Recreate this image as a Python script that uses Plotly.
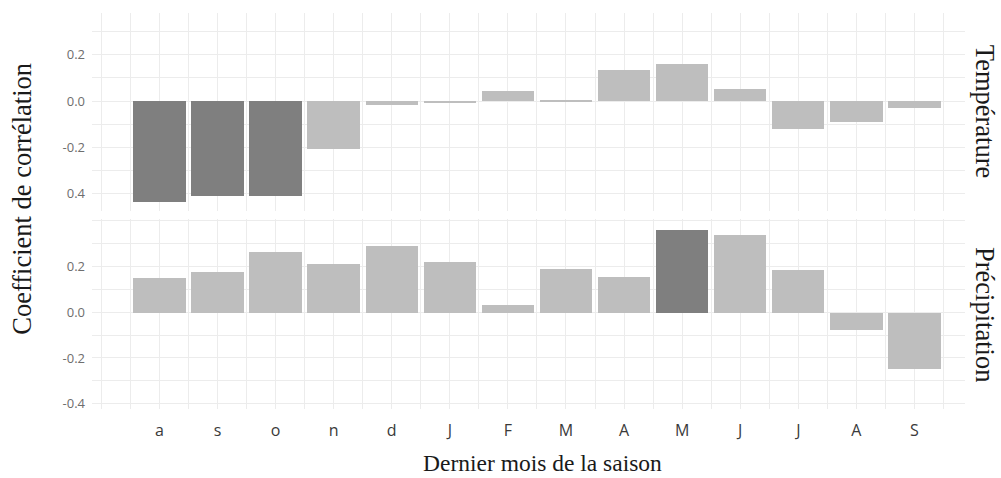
import plotly.graph_objects as go

# Season end months (Aug -> Sep of following year)
months = ["a", "s", "o", "n", "d", "J", "F", "M", "A", "M", "J", "J", "A", "S"]

# Correlation coefficients per climate variable
temperature = [-0.437, -0.411, -0.411, -0.208, -0.017, -0.009, 0.043, 0.004,
               0.136, 0.162, 0.053, -0.122, -0.089, -0.030]
precipitation = [0.153, 0.177, 0.265, 0.214, 0.294, 0.224, 0.035, 0.190,
                 0.158, 0.362, 0.340, 0.187, -0.074, -0.247]

# Significant correlations are drawn darker
significant_temp = [True, True, True, False, False, False, False, False,
                    False, False, False, False, False, False]
significant_precip = [False, False, False, False, False, False, False, False,
                      False, True, False, False, False, False]

# Y tick labels for each panel
temp_ticks = [-0.4, -0.2, 0.0, 0.2]
temp_ticktext = ["0.4", "-0.2", "0.0", "0.2"]
precip_ticks = [-0.4, -0.2, 0.0, 0.2]
precip_ticktext = ["-0.4", "-0.2", "0.0", "0.2"]

LIGHT = "#bebebe"
DARK = "#7f7f7f"
GRID = "#ececec"
SERIF = "Liberation Serif, Times New Roman, serif"
SANS = "Open Sans, Noto Sans, sans-serif"

x_pos = list(range(len(months)))

fig = go.Figure()
fig.add_trace(go.Bar(
    x=x_pos, y=temperature, width=0.9,
    marker=dict(color=[DARK if s else LIGHT for s in significant_temp], line=dict(width=0)),
    xaxis="x", yaxis="y", showlegend=False,
))
fig.add_trace(go.Bar(
    x=x_pos, y=precipitation, width=0.9,
    marker=dict(color=[DARK if s else LIGHT for s in significant_precip], line=dict(width=0)),
    xaxis="x2", yaxis="y2", showlegend=False,
))

W, H = 1001, 478
x_left, x_right = 92 / W, 965 / W
top_dom = [1 - 212 / H, 1 - 13 / H]
bot_dom = [1 - 412 / H, 1 - 220 / H]
x_range = [-1.16, 13.87]
x_minor = [i / 2 for i in range(-2, 28)]

xaxis_common = dict(
    range=x_range, domain=[x_left, x_right],
    showgrid=True, gridcolor=GRID, gridwidth=1,
    zeroline=False, showline=False, ticks="",
    minor=dict(tickmode="array", tickvals=x_minor, showgrid=True, gridcolor=GRID, gridwidth=1),
    tickmode="array", tickvals=x_pos, ticktext=months,
    tickfont=dict(family=SANS, size=16, color="#3a3a3a"),
)

def y_minor(lo, hi):
    return [round(v / 10, 1) for v in range(int(lo * 10) - 1, int(hi * 10) + 2)]

ytick_font = dict(family=SANS, size=13, color="#6e6e6e")
title_font = dict(family=SERIF, size=26.5, color="#1a1a1a")

fig.update_layout(
    width=W, height=H,
    margin=dict(l=0, r=0, t=0, b=0),
    paper_bgcolor="white", plot_bgcolor="white",
    bargap=0,
    xaxis=dict(**xaxis_common, anchor="y", showticklabels=False),
    xaxis2=dict(**xaxis_common, anchor="y2", ticklabelstandoff=10),
    yaxis=dict(
        domain=top_dom, range=[-0.474, 0.381],
        tickmode="array", tickvals=temp_ticks, ticktext=temp_ticktext,
        minor=dict(tickmode="array", tickvals=y_minor(-0.474, 0.381), showgrid=True,
                   gridcolor=GRID, gridwidth=1),
        showgrid=True, gridcolor=GRID, zeroline=False, showline=False, ticks="",
        ticklabelstandoff=6, tickfont=ytick_font,
    ),
    yaxis2=dict(
        domain=bot_dom, range=[-0.425, 0.41],
        tickmode="array", tickvals=precip_ticks, ticktext=precip_ticktext,
        minor=dict(tickmode="array", tickvals=y_minor(-0.425, 0.41), showgrid=True,
                   gridcolor=GRID, gridwidth=1),
        showgrid=True, gridcolor=GRID, zeroline=False, showline=False, ticks="",
        ticklabelstandoff=6, tickfont=ytick_font,
    ),
    annotations=[
        dict(text="Température", xref="paper", yref="paper",
             x=985 / W, y=sum(top_dom) / 2, xanchor="center", yanchor="middle",
             textangle=90, showarrow=False, font=title_font),
        dict(text="Précipitation", xref="paper", yref="paper",
             x=985 / W, y=sum(bot_dom) / 2, xanchor="center", yanchor="middle",
             textangle=90, showarrow=False, font=title_font),
        dict(text="Coefficient de corrélation", xref="paper", yref="paper",
             x=22 / W, y=1 - 200 / H, xanchor="center", yanchor="middle",
             textangle=-90, showarrow=False, font=title_font),
        dict(text="Dernier mois de la saison", xref="paper", yref="paper",
             x=542 / W, y=1 - 466 / H, xanchor="center", yanchor="middle",
             showarrow=False, font=dict(family=SERIF, size=23.5, color="#1a1a1a")),
    ],
)

fig.write_html("out.html")
